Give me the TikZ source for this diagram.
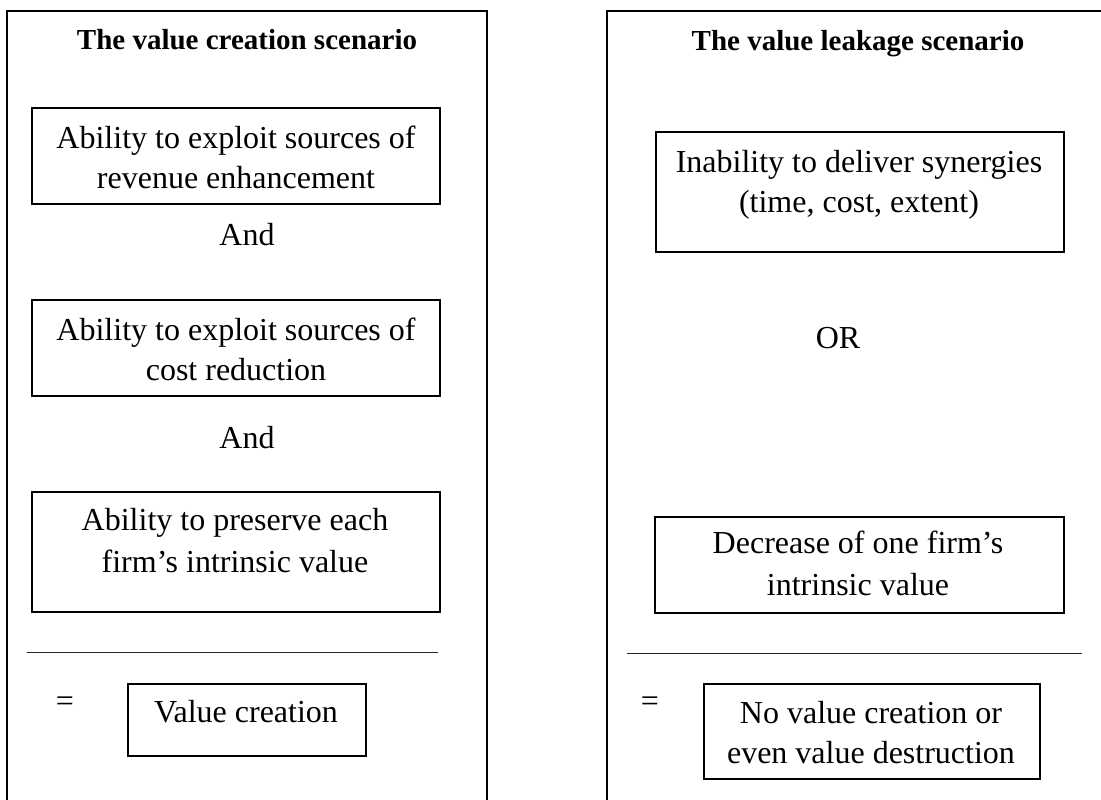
\documentclass[tikz,border=0pt]{standalone}
\usepackage{fontspec}
\setmainfont{Liberation Serif}
\begin{document}
\begin{tikzpicture}[x=1pt,y=-1pt,
  frame/.style={draw=black,line width=1.8pt},
  box/.style={draw=black,line width=1.8pt,rectangle,inner sep=0pt,anchor=north west},
  txt/.style={anchor=base,inner sep=0pt,font=\fontsize{32}{41}\selectfont},
  ttl/.style={anchor=base,inner sep=0pt,font=\fontsize{29}{35}\selectfont\bfseries},
  rule/.style={draw=black!85,line width=1pt}]
\useasboundingbox (0,0) rectangle (1101,800);
\clip (0,0) rectangle (1101,800);

% ---- left column: value creation ----
\draw[frame] (7,11) rectangle (487,815);
\node[ttl] (ltitle) at (247,50) {The value creation scenario};

\node[box,minimum width=408pt,minimum height=96pt] (l1) at (31,107) {};
\node[txt] (l1a) at (236,148) {Ability to exploit sources of};
\node[txt] (l1b) at (236,188) {revenue enhancement};

\node[txt] (and1) at (247,245) {And};

\node[box,minimum width=408pt,minimum height=96pt] (l2) at (31,299) {};
\node[txt] (l2a) at (236,340) {Ability to exploit sources of};
\node[txt] (l2b) at (236,380) {cost reduction};

\node[txt] (and2) at (247,448) {And};

\node[box,minimum width=408pt,minimum height=120pt] (l3) at (31,491) {};
\node[txt] (l3a) at (235,530) {Ability to preserve each};
\node[txt] (l3b) at (235,572) {firm’s intrinsic value};

\coordinate (lsepA) at (27,652);
\coordinate (lsepB) at (438,652);
\draw[rule] (lsepA) -- (lsepB);

\node[txt] (leq) at (65,711) {=};
\node[box,minimum width=238pt,minimum height=72pt] (lres) at (127,683) {};
\node[txt] (lresa) at (246,722) {Value creation};

% ---- right column: value leakage ----
\draw[frame] (607,11) rectangle (1115,815);
\node[ttl] (rtitle) at (858,51) {The value leakage scenario};

\node[box,minimum width=408pt,minimum height=120pt] (r1) at (655,131) {};
\node[txt] (r1a) at (859,172) {Inability to deliver synergies};
\node[txt] (r1b) at (859,212) {(time, cost, extent)};

\node[txt] (or) at (838,348) {OR};

\node[box,minimum width=409pt,minimum height=96pt] (r2) at (654,516) {};
\node[txt] (r2a) at (858,553) {Decrease of one firm’s};
\node[txt] (r2b) at (858,595) {intrinsic value};

\coordinate (rsepA) at (627,653);
\coordinate (rsepB) at (1082,653);
\draw[rule] (rsepA) -- (rsepB);

\node[txt] (req) at (650,711) {=};
\node[box,minimum width=336pt,minimum height=95pt] (rres) at (703,683) {};
\node[txt] (rresa) at (871,723) {No value creation or};
\node[txt] (rresb) at (871,763) {even value destruction};
\end{tikzpicture}
\end{document}
